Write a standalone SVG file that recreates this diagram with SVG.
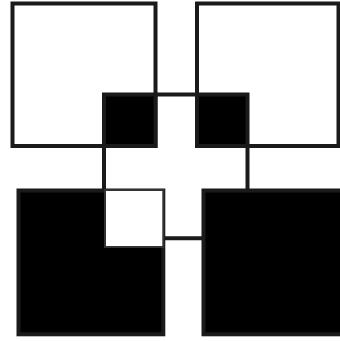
<svg xmlns="http://www.w3.org/2000/svg" width="340" height="341" viewBox="0 0 340 341">
<style>
.w{fill:#fff;stroke:#1a1a1a;stroke-width:4}
.b{fill:#000;stroke:#1a1a1a;stroke-width:4}
.c{stroke:#1a1a1a;stroke-width:4;fill:none}
</style>
<rect width="340" height="341" fill="#fff"/>
<g id="connectors">
<line class="c" x1="155.5" y1="94.5" x2="197" y2="94.5"/>
<line class="c" x1="104" y1="146" x2="104" y2="190.5"/>
<line class="c" x1="247.5" y1="146" x2="247.5" y2="190.5"/>
<line class="c" x1="163.3" y1="238.3" x2="203.5" y2="238.3"/>
</g>
<g id="big-top-left"><rect class="w" x="12.5" y="3.5" width="143" height="142.5"/></g>
<g id="big-top-right"><rect class="w" x="197" y="3.5" width="141.5" height="142.5"/></g>
<g id="big-bottom-left"><rect class="b" x="18.5" y="190.5" width="144.8" height="143.8"/></g>
<g id="big-bottom-right"><rect class="b" x="203.5" y="190.5" width="144" height="143.8"/></g>
<g id="small-top-left"><rect class="b" x="104" y="94.5" width="51.5" height="51.5"/></g>
<g id="small-top-right"><rect class="b" x="197" y="94.5" width="50.5" height="51.5"/></g>
<g id="small-bottom-left"><rect x="105" y="190" width="58.3" height="57" fill="#fff" stroke="#333" stroke-width="2"/></g>
</svg>
